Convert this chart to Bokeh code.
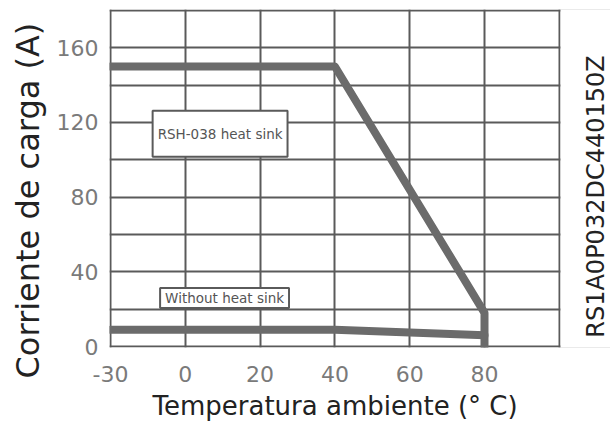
import math
from bokeh.plotting import figure
from bokeh.models import FixedTicker, Label, Range1d, BoxAnnotation, Title
from bokeh.embed import file_html
from bokeh.resources import INLINE

# ---- data ----
x_tick_labels = ["-30", "0", "20", "40", "60", "80"]
rsh_temp = [-30, 40, 80, 80]
rsh_current = [150, 150, 18, 0]
bare_temp = [-30, 40, 80]
bare_current = [9, 9, 6]
y_tick_values = [0, 40, 80, 120, 160]

FONT = "DejaVu Sans"
GRID = "#5a5a5a"
CURVE = "#6b6b6b"

PX_X = 3.74    # pixels per axis unit (x)
PX_Y = 1.8667  # pixels per axis unit (y)


def axis_pos(t):
    # broken axis: the -30..0 stretch is drawn as wide as 20 degrees
    return t * 20.0 / 30.0 if t < 0 else float(t)


LEFT, TOP, BOTTOM = 109, 9, 80
x0 = -20 - 1 / PX_X
x1 = x0 + (610 - LEFT) / PX_X
y0 = -1 / PX_Y
y1 = y0 + (427 - TOP - BOTTOM) / PX_Y

p = figure(width=610, height=427, output_backend="svg", toolbar_location=None,
           x_range=Range1d(x0, x1), y_range=Range1d(y0, y1),
           min_border_left=LEFT, min_border_right=0, min_border_top=TOP,
           min_border_bottom=BOTTOM)
p.background_fill_color = "white"
p.border_fill_color = "white"
p.outline_line_color = None

xax = p.xaxis[0]
yax = p.yaxis[0]

tick_pos = [axis_pos(float(s)) for s in x_tick_labels]
xax.ticker = FixedTicker(ticks=tick_pos)
xax.major_label_overrides = {tp: s for tp, s in zip(tick_pos, x_tick_labels)}
yax.ticker = FixedTicker(ticks=y_tick_values)
for ax in (xax, yax):
    ax.axis_line_color = None
    ax.major_tick_line_color = None
    ax.minor_tick_line_color = None
    ax.major_label_text_font = FONT
    ax.major_label_text_font_size = "22px"
    ax.major_label_text_color = "#7a7a7a"
xax.major_label_standoff = 12
yax.major_label_standoff = 5

# axis titles (off-centre in the original, so placed as titles with offsets)
p.add_layout(Title(text="Temperatura ambiente (° C)", align="left", offset=43,
                   vertical_align="bottom", standoff=8, text_font=FONT,
                   text_font_size="26px", text_font_style="normal",
                   text_color="#222222"), "below")
p.add_layout(Title(text="Corriente de carga (A)", align="left", offset=-31,
                   vertical_align="top", standoff=10, text_font=FONT,
                   text_font_size="32px", text_font_style="normal",
                   text_color="#222222"), "left")

# grid: every 20 units, outer lines form the plot border
p.xgrid.ticker = FixedTicker(ticks=list(range(-20, 101, 20)))
p.ygrid.ticker = FixedTicker(ticks=list(range(0, 181, 20)))
for g in (p.xgrid, p.ygrid):
    g.grid_line_color = GRID
    g.grid_line_width = 2

# curves
p.line([axis_pos(t) for t in rsh_temp], rsh_current, line_width=8,
       line_color=CURVE, line_join="round", line_cap="round")
p.line([axis_pos(t) for t in bare_temp], bare_current, line_width=8,
       line_color=CURVE, line_join="round", line_cap="round")

# blank margin to the right of the chart border
p.add_layout(BoxAnnotation(left=100 + 1.2 / PX_X, right=x1 + 20,
                           bottom=y0 - 20, top=y1 + 20,
                           fill_color="white", fill_alpha=1,
                           line_color=None, line_alpha=0))

# in-chart captions
for txt, x, y, pad in [("RSH-038 heat sink", 9.3, 114, dict(left=5, right=5, top=15, bottom=15)),
                       ("Without heat sink", 10.5, 26, dict(left=5, right=5, top=2, bottom=2))]:
    p.add_layout(Label(x=x, y=y, text=txt, text_align="center", text_baseline="middle",
                       text_font=FONT, text_font_size="13.5px", text_color="#555555",
                       background_fill_color="white", border_line_color=GRID,
                       border_line_width=2, padding=pad))

# side code, in the right margin
p.add_layout(Label(x=486, y=151, x_units="screen", y_units="screen",
                   text="RS1A0P032DC440150Z", angle=math.pi / 2,
                   text_align="center", text_baseline="middle", text_font=FONT,
                   text_font_size="24px", text_color="#222222"))

open("out.html", "w").write(file_html(p, INLINE))
